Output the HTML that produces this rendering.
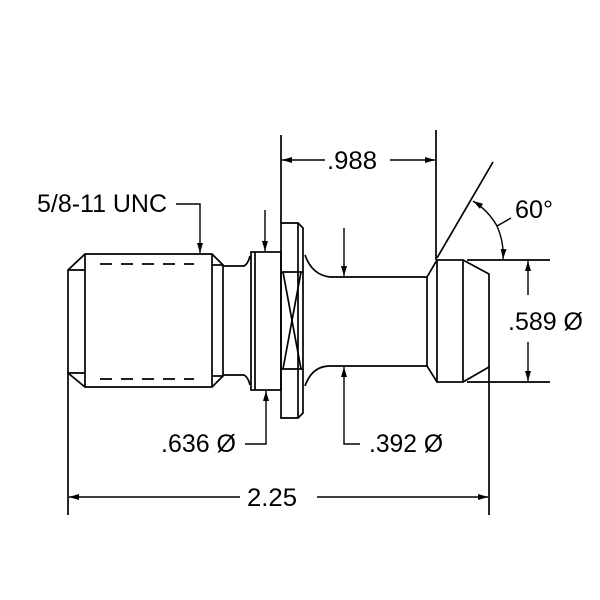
<!DOCTYPE html>
<html><head><style>html,body{margin:0;padding:0;background:#fff}svg{display:block}</style></head>
<body>
<svg width="600" height="600" viewBox="0 0 600 600" xmlns="http://www.w3.org/2000/svg">
<rect width="600" height="600" fill="#fff"/>
<defs>
<marker id="a" viewBox="0 0 10 6" refX="10" refY="3" markerWidth="10" markerHeight="6" markerUnits="userSpaceOnUse" orient="auto"><path d="M0,0 L10,3 L0,6 Z" fill="#000"/></marker>
</defs>
<g fill="none" stroke="#000" stroke-width="1.7">
<path d="M68,270 L85,254 L212,254 L223,265 L223,376 L212,387 L85,387 L68,373 Z"/>
<line x1="85" y1="254" x2="85" y2="387"/>
<line x1="212" y1="254" x2="212" y2="387"/>
<line x1="68" y1="270" x2="85" y2="270"/>
<line x1="68" y1="373" x2="85" y2="373"/>
<line x1="212" y1="265" x2="223" y2="265"/>
<line x1="212" y1="376" x2="223" y2="376"/>
<line x1="100" y1="264" x2="194" y2="264" stroke-dasharray="12,9"/>
<line x1="100" y1="379" x2="194" y2="379" stroke-dasharray="12,9"/>
<path d="M223,266 L244,266 Q248,264 250,256"/>
<path d="M223,375 L244,375 Q248,377 250,385"/>
<rect x="251" y="252" width="30" height="138"/>
<line x1="255" y1="252" x2="255" y2="390"/>
<path d="M281,223 L298,223 L303,228 L303,413 L298,418 L281,418 Z"/>
<line x1="298" y1="223" x2="298" y2="418"/>
<line x1="281" y1="272" x2="303" y2="272"/>
<line x1="281" y1="369" x2="303" y2="369"/>
<line x1="283" y1="272" x2="301" y2="369"/>
<line x1="301" y1="272" x2="283" y2="369"/>
<path d="M305,255 Q312,275 330,277 L427,277 L437,260"/>
<path d="M305,386 Q312,366 330,366 L427,366 L437,382"/>
<line x1="427" y1="277" x2="427" y2="366"/>
<rect x="437" y="260" width="26" height="122"/>
<path d="M463,260 L489,274 L489,367 L463,382"/>
<line x1="68" y1="373" x2="68" y2="515"/>
<line x1="489" y1="367" x2="489" y2="515"/>
<line x1="281" y1="223" x2="281" y2="135"/>
<line x1="436" y1="260" x2="436" y2="130"/>
<line x1="467" y1="260" x2="550" y2="260"/>
<line x1="467" y1="382" x2="550" y2="382"/>
<line x1="437" y1="258" x2="493" y2="162"/>
</g>
<g fill="none" stroke="#000" stroke-width="1.4">
<line x1="240" y1="497" x2="69" y2="497" marker-end="url(#a)"/>
<line x1="317" y1="497" x2="488" y2="497" marker-end="url(#a)"/>
<line x1="325" y1="160" x2="282" y2="160" marker-end="url(#a)"/>
<line x1="390" y1="160" x2="435" y2="160" marker-end="url(#a)"/>
<line x1="528" y1="295" x2="528" y2="261" marker-end="url(#a)"/>
<line x1="528" y1="342" x2="528" y2="381" marker-end="url(#a)"/>
<path d="M511,218 L497,226 A70,70 0 0 0 473,201" marker-end="url(#a)"/>
<path d="M497,226 A70,70 0 0 1 503,259" marker-end="url(#a)"/>
<path d="M176,204 L200,204 L200,253" marker-end="url(#a)"/>
<line x1="265" y1="210" x2="265" y2="251" marker-end="url(#a)"/>
<path d="M245,444 L266,444 L266,391" marker-end="url(#a)"/>
<line x1="344" y1="228" x2="344" y2="276" marker-end="url(#a)"/>
<path d="M360,444 L344,444 L344,367" marker-end="url(#a)"/>
</g>
<g font-family="Liberation Sans, Arial, sans-serif" font-size="25" fill="#000">
<text x="37" y="212" textLength="130" lengthAdjust="spacingAndGlyphs">5/8-11 UNC</text>
<text x="327" y="169" textLength="50" lengthAdjust="spacingAndGlyphs">.988</text>
<text x="515" y="218" textLength="38" lengthAdjust="spacingAndGlyphs">60°</text>
<text x="508" y="330" textLength="75" lengthAdjust="spacingAndGlyphs">.589 Ø</text>
<text x="161" y="452" textLength="75" lengthAdjust="spacingAndGlyphs">.636 Ø</text>
<text x="369" y="452" textLength="74" lengthAdjust="spacingAndGlyphs">.392 Ø</text>
<text x="247" y="506" textLength="50" lengthAdjust="spacingAndGlyphs">2.25</text>
</g>
</svg>
</body></html>
